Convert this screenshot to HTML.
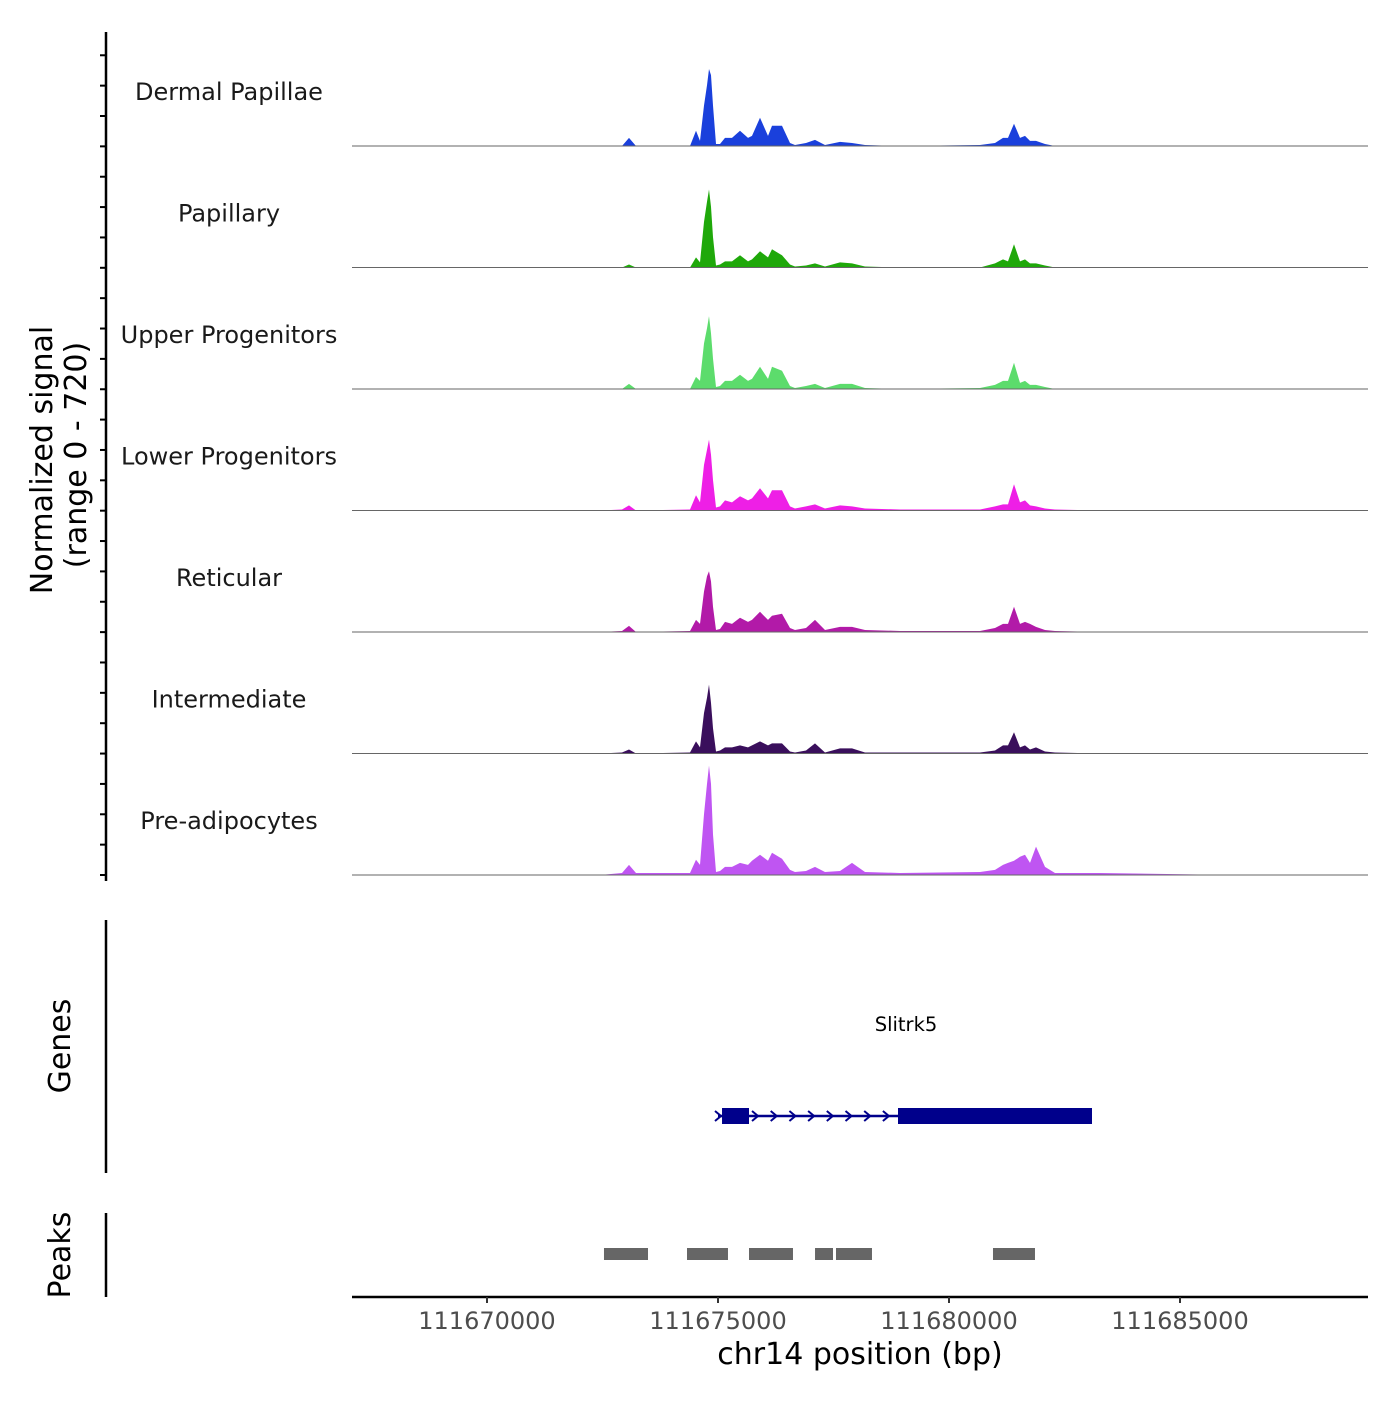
<!DOCTYPE html>
<html><head><meta charset="utf-8"><style>
body{margin:0;background:#fff;}
svg text{font-family:"DejaVu Sans","Liberation Sans",sans-serif;}
</style></head><body>
<svg id="chart" width="1400" height="1400" viewBox="0 0 1400 1400" xmlns="http://www.w3.org/2000/svg">
<rect width="1400" height="1400" fill="#fff"/>
<g id="tracks"></g>
<g id="axes"></g>
<text transform="translate(52,460) rotate(-90)" text-anchor="middle" font-size="30" fill="#000">Normalized signal</text>
<text transform="translate(86,455) rotate(-90)" text-anchor="middle" font-size="30" fill="#000">(range 0 - 720)</text>
<text transform="translate(70,1046) rotate(-90)" text-anchor="middle" font-size="30" fill="#000">Genes</text>
<text transform="translate(70,1255) rotate(-90)" text-anchor="middle" font-size="30" fill="#000">Peaks</text>
<text x="860" y="1364" text-anchor="middle" font-size="30" fill="#000">chr14 position (bp)</text>
<g id="genes"></g>
<g id="peaks"></g>
</svg>
<script>
const positions=[111667078,111672446,111672922,111673074,111673225,111674394,111674524,111674610,111674697,111674762,111674805,111674848,111674892,111674957,111675043,111675152,111675303,111675476,111675649,111675736,111675909,111676082,111676169,111676385,111676558,111676666,111676905,111677099,111677316,111677641,111677900,111678182,111678939,111680671,111680996,111681169,111681277,111681407,111681537,111681645,111681753,111681883,111682078,111682294,111683268,111686082,111689069];
const trackNames=["Dermal Papillae","Papillary","Upper Progenitors","Lower Progenitors","Reticular","Intermediate","Pre-adipocytes"];
const trackColors=["#1a40dc","#1fa80a","#5cdc6c","#ee1fe6","#b21aa8","#3a0f5c","#bf55f2"];
const dermalValues=[0,0,0,48,0,0,90,30,240,360,456,420,240,12,12,48,48,90,48,60,168,60,120,120,18,6,18,36,6,24,18,6,0,6,18,48,48,132,48,60,30,30,12,0,0,0,0];
const papillaryValues=[0,0,0,18,0,0,60,30,270,390,462,360,180,12,18,36,36,72,36,48,96,60,108,72,18,6,12,24,6,30,24,6,0,0,24,48,36,138,36,48,24,24,12,0,0,0,0];
const upperValues=[0,0,0,30,0,0,72,48,270,360,432,330,180,12,18,48,48,84,48,60,132,60,132,108,18,6,18,30,6,30,30,6,0,6,24,48,48,156,36,48,24,24,12,0,0,0,0];
const lowerValues=[0,0,6,30,0,6,90,48,270,360,420,330,180,18,24,60,48,84,60,72,132,72,120,120,24,12,24,36,12,30,24,12,6,6,24,36,36,156,48,60,30,24,12,6,0,0,0];
const reticularValues=[0,0,6,36,0,6,72,48,240,330,360,300,150,12,18,60,48,84,60,72,120,72,96,108,24,12,24,72,12,30,30,12,6,6,24,48,48,150,48,60,48,30,12,6,0,0,0];
const intermediateValues=[0,0,6,24,0,6,72,36,240,330,408,300,150,12,18,36,36,48,36,48,72,48,60,60,12,6,18,60,6,30,30,6,6,6,18,48,48,126,36,48,24,36,12,6,0,0,0];
const preadipoValues=[0,0,12,60,12,12,90,60,360,540,648,540,240,18,24,48,48,72,60,84,120,84,132,96,30,18,24,48,18,24,72,18,12,18,30,60,72,84,108,120,72,168,48,12,12,0,0];
const xTicks=[111670000,111675000,111680000,111685000];
const peakStarts=[111672532,111674329,111675671,111677100,111677554,111680952];
const peakEnds=[111673485,111675216,111676623,111677489,111678333,111681861];
const geneName="Slitrk5";
const geneStart=111675000, geneEnd=111683095;
const exonStarts=[111675087,111678896];
const exonEnds=[111675671,111683095];
const yMax=720;

const allValues=[dermalValues,papillaryValues,upperValues,lowerValues,reticularValues,intermediateValues,preadipoValues];
const NS="http://www.w3.org/2000/svg";
const X0=352,X1=1368,BP0=111667078,BP1=111689069;
const xs=bp=>X0+(bp-BP0)/(BP1-BP0)*(X1-X0);
const trackH=121.5, firstBase=146;
function mk(tag,attrs,parent){const e=document.createElementNS(NS,tag);for(const k in attrs)e.setAttribute(k,attrs[k]);parent.appendChild(e);return e;}
const tg=document.getElementById('tracks');
allValues.forEach((vals,i)=>{
  const base=firstBase+i*trackH;
  const ys=v=>base-v/yMax*trackH;
  let d=`M${xs(positions[0])},${base}`;
  positions.forEach((p,j)=>{d+=` L${xs(p).toFixed(1)},${ys(vals[j]).toFixed(1)}`;});
  d+=` L${xs(positions[positions.length-1])},${base} Z`;
  const a=mk('path',{d:d,fill:trackColors[i]},tg);
  
  
  const l=mk('line',{x1:X0,x2:X1,y1:base,y2:base,stroke:'#666','stroke-width':1},tg);
  
  
  const t=mk('text',{x:229,y:base-46,'text-anchor':'middle','font-size':24,fill:'#1a1a1a'},tg);
  t.textContent=trackNames[i];
  
  
});
const ax=document.getElementById('axes');
mk('line',{x1:106,x2:106,y1:32,y2:881,stroke:'#000','stroke-width':2.5},ax);
for(let y=875;y>=30;y-=30.36){const t=mk('line',{x1:100,x2:106,y1:y,y2:y,stroke:'#000','stroke-width':2},ax);}
mk('line',{x1:106,x2:106,y1:920,y2:1173,stroke:'#000','stroke-width':2.5},ax);
mk('line',{x1:106,x2:106,y1:1213,y2:1297,stroke:'#000','stroke-width':2.5},ax);
mk('line',{x1:X0,x2:X1,y1:1297,y2:1297,stroke:'#000','stroke-width':2.5},ax);
xTicks.forEach(v=>{
  const x=xs(v);
  const t=mk('line',{x1:x,x2:x,y1:1297,y2:1303,stroke:'#333','stroke-width':2},ax);
  
  
  const lb=mk('text',{x:x,y:1329,'text-anchor':'middle','font-size':24,fill:'#4d4d4d'},ax);
  lb.textContent=v;
  
  
});
const gg=document.getElementById('genes');
const gy=1116;
mk('line',{x1:xs(geneStart),x2:xs(geneEnd),y1:gy,y2:gy,stroke:'#00008b','stroke-width':2.5},gg);
exonStarts.forEach((s,i)=>{const r=mk('rect',{x:xs(s),y:gy-8,width:xs(exonEnds[i])-xs(s),height:16,fill:'#00008b'},gg);});
for(let x=xs(exonEnds[0])+6;x<xs(exonStarts[1])-4;x+=18.7){mk('path',{d:`M${x-3},${gy-5} L${x+3},${gy} L${x-3},${gy+5}`,fill:'none',stroke:'#00008b','stroke-width':2},gg);}
mk('path',{d:`M${xs(geneStart)-3},${gy-5} L${xs(geneStart)+3},${gy} L${xs(geneStart)-3},${gy+5}`,fill:'none',stroke:'#00008b','stroke-width':2},gg);
const gt=mk('text',{x:906,y:1031,'text-anchor':'middle','font-size':19.5,fill:'#000'},gg);
gt.textContent=geneName;


const pg=document.getElementById('peaks');
peakStarts.forEach((s,i)=>{
  const r=mk('rect',{x:xs(s),y:1248,width:xs(peakEnds[i])-xs(s),height:12,fill:'#666'},pg);
  
  
});
</script>
</body></html>
